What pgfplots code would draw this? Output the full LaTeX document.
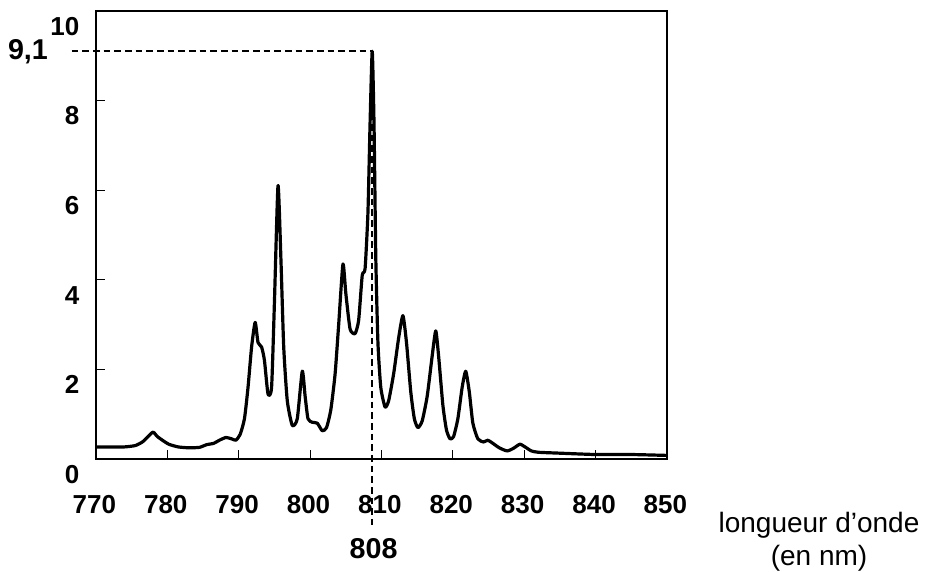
\documentclass[border=0pt]{standalone}
\usepackage{fontspec}
\setmainfont{Liberation Sans}
\usepackage{pgfplots}
\pgfplotsset{compat=1.18}
\newcommand\tl[1]{{\fontsize{19.5}{22}\selectfont\bfseries #1}}
\begin{document}
\begin{tikzpicture}
\useasboundingbox (-72pt,-84pt) rectangle (631.5pt,344.25pt);
\begin{axis}[
 at={(0,0)}, anchor=south west,
 scale only axis, width=428.25pt, height=336pt,
 xmin=770, xmax=850, ymin=0, ymax=10,
 xtick={770,780,...,850}, xticklabels={\tl{770},\tl{780},\tl{790},\tl{800},\tl{810},\tl{820},\tl{830},\tl{840},\tl{850}},
 ytick={0,2,...,10}, yticklabels={\tl{0},\tl{2},\tl{4},\tl{6},\tl{8},\tl{10}},
 tick align=inside, xtick pos=bottom, ytick pos=left,
 major tick length=7pt,
 tick style={line width=0.6pt, black},
 axis line style={line width=1.4pt},
 xticklabel style={yshift=-23.5pt, xshift=-1.2pt},
 yticklabel style={xshift=-9pt, yshift=-11.5pt},
 clip=false,
]
\addplot[black, line width=2.4pt, line join=round, smooth, tension=0.35] coordinates {
(770.0,0.27) (772,0.27) (774,0.27) (775.5,0.3) (776.5,0.38) (777.3,0.5) (778.0,0.6)
(778.6,0.5) (779.3,0.42) (780.2,0.33) (781.5,0.27) (783,0.25) (784.5,0.26) (785.5,0.32)
(786.5,0.35) (787.3,0.42) (788.2,0.48) (789.0,0.45) (789.6,0.42) (790.2,0.55) (790.8,0.9)
(791.3,1.6) (791.8,2.5) (792.3,3.05) (792.7,2.6) (793.2,2.5) (793.6,2.2) (794.1,1.45)
(794.6,1.6) (795.0,3.5) (795.5,6.1) (795.9,4.5) (796.3,2.5) (796.8,1.3) (797.5,0.75)
(798.2,0.9) (798.9,1.96) (799.3,1.4) (799.7,0.9) (800.3,0.82) (801.0,0.8) (801.7,0.63)
(802.3,0.7) (802.9,1.1) (803.5,1.9) (804.0,3.0) (804.6,4.35) (805.0,3.7) (805.6,2.9)
(806.3,2.8) (806.8,3.1) (807.3,4.1) (807.7,4.25) (808.1,5.5) (808.4,7.5) (808.7,9.1)
(808.95,7.5) (809.2,4.5) (809.5,2.6) (809.9,1.6) (810.5,1.16) (811.0,1.3) (811.7,1.9)
(812.4,2.7) (813.0,3.2) (813.5,2.6) (814.1,1.5) (814.6,0.9) (815.1,0.7) (815.7,0.85)
(816.4,1.4) (817.1,2.3) (817.6,2.86) (818.0,2.3) (818.6,1.2) (819.1,0.65) (819.6,0.45)
(820.1,0.5) (820.7,0.9) (821.3,1.6) (821.8,1.96) (822.3,1.5) (822.8,0.8) (823.5,0.45)
(824.3,0.38) (824.9,0.42) (825.6,0.35) (826.5,0.25) (827.6,0.18) (828.5,0.24) (829.4,0.33)
(830.2,0.26) (831.0,0.18) (832,0.15) (835,0.13) (840,0.1) (845,0.1) (850,0.08)
};
\draw[black, line width=1.3pt, dash pattern=on 5pt off 3pt] (axis cs:766.6,9.1) -- (axis cs:808.7,9.1) -- (axis cs:808.7,-1.47);
\node[anchor=east, inner sep=0, font=\fontsize{21.5}{24}\selectfont\bfseries] at (axis cs:763.3,9.1) {9,1};
\node[inner sep=0, font=\fontsize{21.5}{24}\selectfont\bfseries] at (axis cs:808.9,-1.99) {808};
\node[align=center, inner sep=0, font=\fontsize{21}{25}\selectfont] at (axis cs:871.3,-1.85) {longueur d’onde\\(en nm)};
\end{axis}
\end{tikzpicture}
\end{document}
